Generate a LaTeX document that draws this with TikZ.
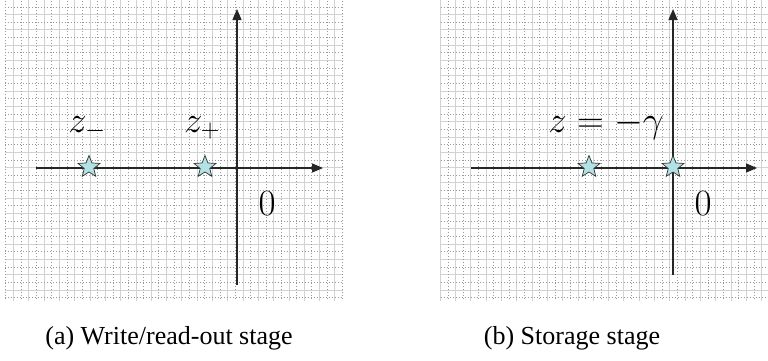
\RequirePackage{fix-cm}
\documentclass[tikz,border=0pt]{standalone}
\usepackage{fontspec}
\newfontfamily\capfont{Liberation Serif}
\usetikzlibrary{arrows.meta,shapes.geometric}
\definecolor{polefill}{RGB}{178,226,228}

\begin{document}
\begin{tikzpicture}[x=1pt,y=1pt,>={Triangle[length=11pt,width=9pt]},
  finegrid/.style={draw=gray!35,line width=1pt},
  coarsegrid/.style={draw=gray!80,dotted,line width=1pt},
  axis/.style={line width=1.3pt,black!85},
  pole/.style={star,star points=5,star point ratio=2.3,minimum size=23pt,inner sep=0pt,draw=black!80,fill=polefill,line width=0.7pt},
  lbl/.style={font=\fontsize{37}{40}\selectfont,inner sep=0pt,anchor=base},
  subcaption/.style={font=\capfont\fontsize{26}{30}\selectfont,inner sep=0pt,anchor=base}]
\useasboundingbox (0,0) rectangle (768,360);
% grid paper behind both panels
\foreach \gx/\gw/\gs in {5/338/5.99,440/328/432.7}{
  \begin{scope}
    \clip (\gx,60) rectangle ++(\gw,300);
    \draw[finegrid,shift={(\gs+7.65,54.65)}] (-16,-16) grid[step=15.3] (\gw+16,320);
    \draw[coarsegrid,shift={(\gs,47)}] (-16,-16) grid[step=15.3] (\gw+16,320);
  \end{scope}
}
% (a) write/read-out stage
\coordinate (a-west) at (36,192);
\coordinate (a-east) at (323,192);
\coordinate (a-south) at (237,75);
\coordinate (a-north) at (237,351);
\draw[axis,->] (a-west) -- (a-east);
\draw[axis,->] (a-south) -- (a-north);
\node[pole] (a-zm) at (89,193) {};
\node[pole] (a-zp) at (205,193) {};
\node[lbl] (a-zmlbl) at (87,228) {$z_-$};
\node[lbl] (a-zplbl) at (202,228) {$z_+$};
\node[lbl] (a-zero) at (267,145) {$0$};
\node[subcaption] (a-cap) at (169,16) {(a) Write/read-out stage};
% (b) storage stage
\coordinate (b-west) at (471,192);
\coordinate (b-east) at (757,192);
\coordinate (b-south) at (673,85);
\coordinate (b-north) at (673,351);
\draw[axis,->] (b-west) -- (b-east);
\draw[axis,->] (b-south) -- (b-north);
\node[pole] (b-zg) at (589,193) {};
\node[pole] (b-zo) at (673,193) {};
\node[lbl] (b-zlbl) at (606,228) {$z=-\gamma$};
\node[lbl] (b-zero) at (703,145) {$0$};
\node[subcaption] (b-cap) at (572,16) {(b) Storage stage};
\end{tikzpicture}
\end{document}
